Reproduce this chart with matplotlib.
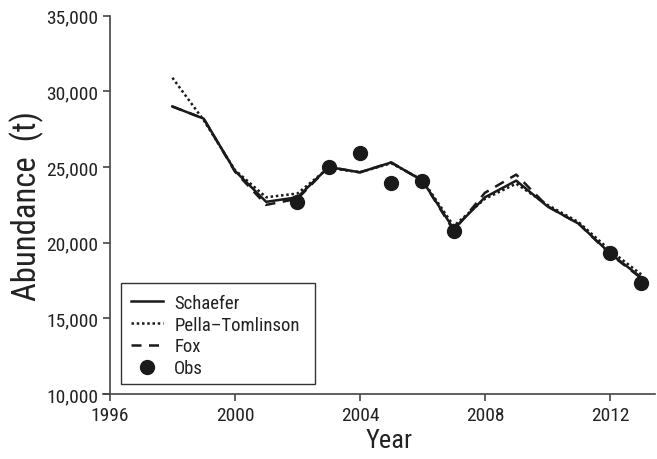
import matplotlib
matplotlib.use("Agg")
import matplotlib.pyplot as plt
from matplotlib import font_manager
from matplotlib.ticker import FuncFormatter
from matplotlib.patches import Rectangle

# Prefer a condensed sans face when one is available
_fonts = font_manager.fontManager.ttflist
_names = {f.name for f in _fonts}
family = ['Liberation Sans', 'DejaVu Sans']
stretch = 'normal'
for cand in ['Liberation Sans Narrow', 'Roboto Condensed', 'Open Sans Condensed',
             'Noto Sans Condensed', 'Arial Narrow']:
    if cand in _names:
        family = [cand, 'DejaVu Sans']
        break
else:
    if any(f.name == 'DejaVu Sans' and f.stretch in ('condensed', 'semi-condensed')
           for f in _fonts):
        family = ['DejaVu Sans']
        stretch = 'condensed'
plt.rcParams['font.family'] = family
plt.rcParams['font.stretch'] = stretch

years = [1998, 1999, 2000, 2001, 2002, 2003, 2004, 2005,
         2006, 2007, 2008, 2009, 2010, 2011, 2012, 2013]
schaefer = [29000, 28200, 24750, 22700, 23000, 25000, 24650, 25300,
            24100, 20900, 23000, 24100, 22400, 21250, 19300, 17700]
pella = [30900, 28100, 24800, 23000, 23250, 24950, 24650, 25250,
         24150, 21100, 22900, 23900, 22500, 21350, 19500, 17900]
fox = [29000, 28200, 24700, 22500, 22900, 25000, 24650, 25300,
       24100, 20800, 23300, 24500, 22400, 21250, 19250, 17650]

obs_years = [2002, 2003, 2004, 2005, 2006, 2007, 2012, 2013]
obs = [22700, 25000, 25900, 23950, 24100, 20750, 19300, 17350]

x_ticks = [1996, 2000, 2004, 2008, 2012]
y_ticks = [10000, 15000, 20000, 25000, 30000, 35000]

W, H = 657, 460
fig = plt.figure(figsize=(W / 100, H / 100), dpi=100)
ax = fig.add_axes([103 / W, 1 - 395 / H, (655 - 103) / W, (395 - 16.7) / H])

ink = '#1a1a1a'
ax.plot(years, schaefer, color=ink, lw=1.8, ls='-', label='Schaefer')
ax.plot(years, pella, color=ink, lw=1.8, ls=(0, (1, 1.1)), label='Pella\u2013Tomlinson')
ax.plot(years, fox, color=ink, lw=1.8, ls=(0, (4, 3)), label='Fox')
ax.plot(obs_years, obs, 'o', color=ink, ms=10, label='Obs')

ax.set_xlim(1995.78, 2013.44)
ax.set_ylim(10000, 35000)
ax.set_xticks(x_ticks)
ax.set_yticks(y_ticks)
ax.yaxis.set_major_formatter(FuncFormatter(lambda v, p: f"{int(v):,}"))

for s in ['top', 'right']:
    ax.spines[s].set_visible(False)
ax.spines['left'].set_position(('data', 1996))
for s in ['left', 'bottom']:
    ax.spines[s].set_color('#444444')
    ax.spines[s].set_linewidth(1.2)
ax.tick_params(axis='both', direction='out', length=5, width=1.2,
               color='#444444', labelsize=14, labelcolor='#222222')

ax.set_xlabel('Year', fontsize=19, color='#222222')
ax.xaxis.set_label_coords((389 - 103) / (655 - 103), -0.09)
ax.set_ylabel('Abundance  (t)', fontsize=23.5, color='#222222')
ax.yaxis.set_label_coords(-(103 - 27) / (655 - 103), 0.5)
ax.yaxis.label.set_verticalalignment('center')

# Legend entries without frame; the box is drawn separately so it can
# carry extra room on the right
leg = ax.legend(loc='upper left', bbox_to_anchor=(131 / W, 1 - 295 / H),
                bbox_transform=fig.transFigure, frameon=False,
                fontsize=13.5, handlelength=1.7, handletextpad=0.6,
                labelspacing=0.2, borderpad=0, borderaxespad=0)
for t in leg.get_texts():
    t.set_color('#222222')

box = Rectangle((120.7 / W, 1 - 385 / H), (315 - 120.7) / W, (385 - 284) / H,
                transform=fig.transFigure, fill=False, edgecolor='#333333',
                linewidth=1.0, zorder=5)
fig.add_artist(box)

fig.savefig('out.png', dpi=100)
